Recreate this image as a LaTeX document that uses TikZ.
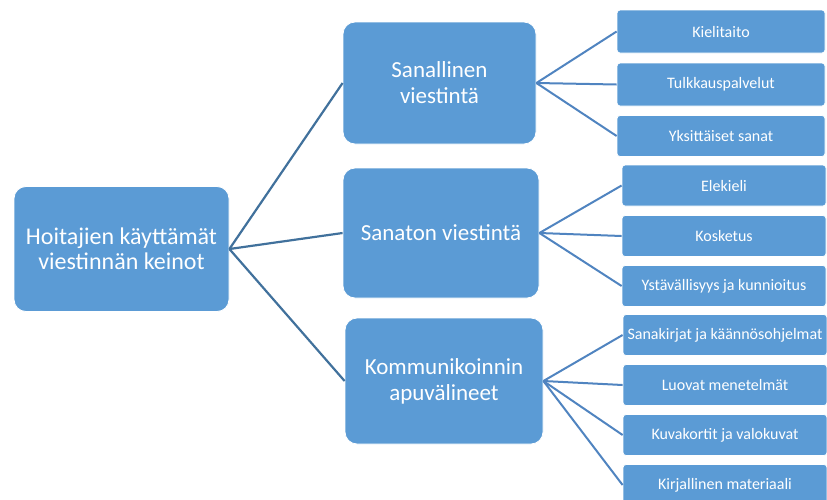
\documentclass[tikz,border=0pt]{standalone}
\usepackage{fontspec}
\setmainfont{Carlito}
\usepackage{tikz}

\definecolor{boxblue}{RGB}{91,155,213}
\definecolor{lineblue}{RGB}{65,113,156}
\definecolor{leafline}{RGB}{80,132,192}

\begin{document}
\begin{tikzpicture}[x=1pt, y=-1pt,
  bigbox/.style={draw=white, line width=0.8pt, fill=boxblue, rounded corners=12pt, text=white, align=center, inner sep=0pt},
  leafbox/.style={draw=white, line width=0.8pt, fill=boxblue, rounded corners=3pt, text=white, align=center, inner sep=0pt, font=\fontsize{16}{19}\selectfont},
  rootedge/.style={draw=lineblue, line width=2.2pt},
  leafedge/.style={draw=leafline, line width=2pt}]
\useasboundingbox (0,0) rectangle (827,499);

\node[bigbox, minimum width=215pt, minimum height=125pt, font=\fontsize{24}{25}\selectfont] (root) at (121.5,249) {Hoitajien käyttämät\\viestinnän keinot};
\node[bigbox, minimum width=193pt, minimum height=122pt, font=\fontsize{23}{26}\selectfont] (sanal) at (439.5,83) {Sanallinen\\viestintä};
\node[bigbox, minimum width=196pt, minimum height=130pt, font=\fontsize{23}{26}\selectfont] (sanat) at (441,233) {Sanaton viestintä};
\node[bigbox, minimum width=198pt, minimum height=126pt, font=\fontsize{23}{26}\selectfont] (komm) at (444,381) {Kommunikoinnin\\apuvälineet};

\node[leafbox, minimum width=208pt, minimum height=43pt] (kieli) at (721,31.5) {Kielitaito};
\node[leafbox, minimum width=208pt, minimum height=43pt] (tulkki) at (721,84.5) {Tulkkauspalvelut};
\node[leafbox, minimum width=208pt, minimum height=41pt] (yksit) at (721,136) {Yksittäiset sanat};

\node[leafbox, minimum width=204pt, minimum height=41pt] (ele) at (724,185.5) {Elekieli};
\node[leafbox, minimum width=204pt, minimum height=41pt] (koske) at (724,236) {Kosketus};
\node[leafbox, minimum width=204pt, minimum height=41pt] (ystav) at (724,286) {Ystävällisyys ja kunnioitus};

\node[leafbox, minimum width=204pt, minimum height=41pt] (sanak) at (725,335) {Sanakirjat ja käännösohjelmat};
\node[leafbox, minimum width=204pt, minimum height=41pt] (luova) at (725,385) {Luovat menetelmät};
\node[leafbox, minimum width=204pt, minimum height=41pt] (kuva) at (725,435) {Kuvakortit ja valokuvat};
\node[leafbox, minimum width=204pt, minimum height=41pt] (kirja) at (725,485) {Kirjallinen materiaali};

\draw[rootedge] (root.east) -- (sanal.west);
\draw[rootedge] (root.east) -- (sanat.west);
\draw[rootedge] (root.east) -- (komm.west);

\draw[leafedge] (sanal.east) -- (kieli.west);
\draw[leafedge] (sanal.east) -- (tulkki.west);
\draw[leafedge] (sanal.east) -- (yksit.west);
\draw[leafedge] (sanat.east) -- (ele.west);
\draw[leafedge] (sanat.east) -- (koske.west);
\draw[leafedge] (sanat.east) -- (ystav.west);
\draw[leafedge] (komm.east) -- (sanak.west);
\draw[leafedge] (komm.east) -- (luova.west);
\draw[leafedge] (komm.east) -- (kuva.west);
\draw[leafedge] (komm.east) -- (kirja.west);
\end{tikzpicture}
\end{document}
